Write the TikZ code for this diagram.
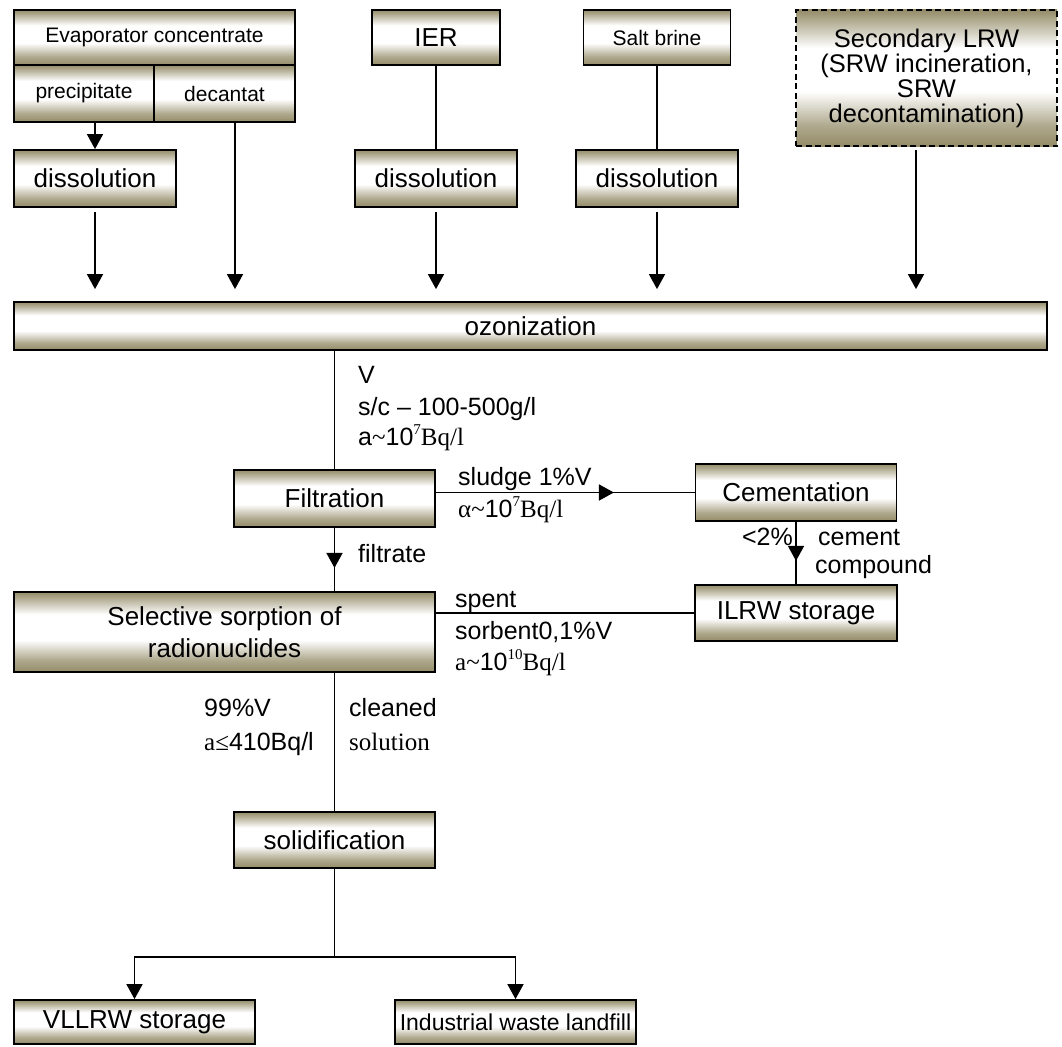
\documentclass[tikz,border=0pt]{standalone}
\usepackage{fontspec}
\setmainfont{Liberation Sans}
\newfontfamily\tms{Liberation Serif}
\usetikzlibrary{arrows.meta}
\definecolor{olv}{RGB}{148,140,104}
\pgfdeclareverticalshading{olvsh}{100bp}{color(0bp)=(olv); color(25bp)=(olv); color(32.5bp)=(olv!75); color(45bp)=(white); color(61bp)=(white); color(70bp)=(olv!65); color(75bp)=(olv); color(100bp)=(olv)}
\newcommand{\fsz}[2]{\fontsize{#1pt}{#2pt}\selectfont}
\newcommand{\sups}[1]{\raisebox{0.42em}{\fontsize{15pt}{15pt}\selectfont\tms #1}}
\begin{document}
\begin{tikzpicture}[x=1pt,y=-1pt,
  box/.style={draw=black, line width=1.8pt, shading=olvsh, inner sep=0pt, align=center, font=\fsz{26}{31}},
  smallbox/.style={box, font=\fsz{21}{25}},
  lbl/.style={anchor=base west, inner sep=0pt, font=\fsz{25}{30}},
  con/.style={line width=1.7pt},
  arr/.style={con, -{Triangle[length=15pt,width=16pt]}}
]
\useasboundingbox (0,0) rectangle (1062,1046);

% top row
\node[smallbox, minimum width=281pt, minimum height=55pt] (evap) at (154.5,37.5) {Evaporator concentrate};
\node[smallbox, minimum width=140pt, minimum height=57pt] (precip) at (84,93.5) {precipitate};
\node[smallbox, minimum width=141pt, minimum height=57pt] (decant) at (224.5,93.5) {decantat};
\node[box, minimum width=162pt, minimum height=57pt] (diss1) at (95,178.5) {dissolution};

\node[box, minimum width=128pt, minimum height=55pt] (ier) at (436,37.5) {IER};
\node[box, minimum width=162pt, minimum height=57pt] (diss2) at (436,178.5) {dissolution};

\node[smallbox, minimum width=147pt, minimum height=55pt] (salt) at (657,37.5) {Salt brine};
\node[box, minimum width=162pt, minimum height=57pt] (diss3) at (657,178.5) {dissolution};

\node[box, dash pattern=on 6pt off 3.5pt, minimum width=261pt, minimum height=136pt, font=\fsz{25.5}{25}] (sec) at (926.5,78) {Secondary LRW\\(SRW incineration,\\SRW\\decontamination)};

\node[box, minimum width=1033pt, minimum height=48pt] (oz) at (530.5,326) {ozonization};

\node[box, minimum width=201pt, minimum height=57pt] (filt) at (334.5,498.5) {Filtration};
\node[box, minimum width=201pt, minimum height=57pt] (cem) at (796,492.5) {Cementation};
\node[box, minimum width=421pt, minimum height=80pt, font=\fsz{26}{32}] (sel) at (224.5,632) {Selective sorption of\\radionuclides};
\node[box, minimum width=202pt, minimum height=56pt] (ilrw) at (796,613) {ILRW storage};
\node[box, minimum width=201pt, minimum height=56pt] (solid) at (334.5,840) {solidification};
\node[box, minimum width=241pt, minimum height=44pt] (vll) at (134.5,1022) {VLLRW storage};
\node[box, minimum width=241pt, minimum height=44pt, font=\fsz{23}{28}] (ind) at (515.5,1022) {Industrial waste landfill};

% labels
\node[lbl] (lv) at (358,383) {V};
\node[lbl] (lsc) at (358,415) {s/c – 100-500g/l};
\node[lbl] (la1) at (358,445) {a{\tms\char"7E}10\sups{7}{\tms Bq/l}};
\node[lbl] (lsl) at (458,485) {sludge 1\%V};
\node[lbl] (lal) at (458,517) {{\tms α\char"7E}10\sups{7}{\tms Bq/l}};
\node[lbl] (lfi) at (358,562) {filtrate};
\node[lbl, anchor=base east] (l2p) at (793,545) {<2\%};
\node[lbl] (lce) at (818,545) {cement};
\node[lbl] (lco) at (815,573) {compound};
\node[lbl] (lsp) at (455,607) {spent};
\node[lbl] (lso) at (455,639) {sorbent0,1\%V};
\node[lbl] (la2) at (455,670) {{\tms a\char"7E}10\sups{10}{\tms Bq/l}};
\node[lbl] (l99) at (204,716) {99\%V};
\node[lbl] (l41) at (204,750) {{\tms a≤}410Bq/l};
\node[lbl] (lcl) at (349,716) {cleaned};
\node[lbl] (lsol) at (349,750) {{\tms solution}};

% connectors top
\draw[arr] (diss1.north |- precip.south) -- (diss1.north);
\coordinate (dc) at (235,122);
\draw[arr, shorten >=12pt] (dc) -- (dc |- oz.north);
\draw[arr, shorten <=4pt, shorten >=12pt] (diss1.south) -- (diss1.south |- oz.north);
\draw[con] (ier.south) -- (diss2.north);
\draw[arr, shorten <=4pt, shorten >=12pt] (diss2.south) -- (diss2.south |- oz.north);
\draw[con] (salt.south) -- (diss3.north);
\draw[arr, shorten <=4pt, shorten >=12pt] (diss3.south) -- (diss3.south |- oz.north);
\coordinate (sc) at (916,150);
\draw[arr, shorten >=12pt] (sc) -- (sc |- oz.north);

% middle
\draw[con] (filt.north |- oz.south) -- (filt.north);
\draw[con] (filt.south) -- (filt.south |- sel.north);
\draw[arr] (filt.south) -- ++(0,40);
\coordinate (sl) at (filt.east |- cem.west);
\draw[con] (sl) -- (cem.west);
\draw[arr] (sl) -- ++(178,0);
\draw[con] (cem.south) -- (ilrw.north);
\draw[arr] (cem.south) -- ++(0,39);
\draw[con] (sel.east |- ilrw.west) -- (ilrw.west);
\draw[con] (solid.north |- sel.south) -- (solid.north);

% bottom
\coordinate (br) at (334.5,957);
\draw[con] (solid.south) -- (br);
\draw[arr] (br) -| (vll.north);
\draw[arr] (br) -| (ind.north);
\end{tikzpicture}
\end{document}
